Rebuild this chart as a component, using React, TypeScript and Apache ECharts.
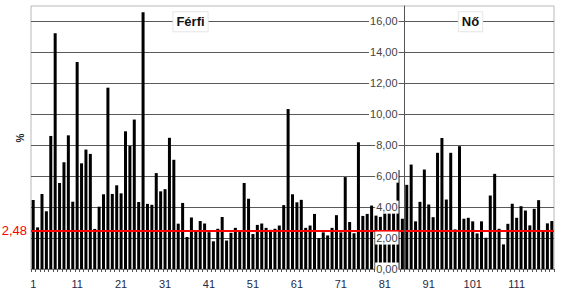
import React, { useEffect, useRef } from "react";
import * as echarts from "echarts";

const maleValues = [
  4.46, 2.69, 4.85, 3.73, 8.6, 15.24, 5.56, 6.9, 8.64, 4.35,
  13.38, 6.83, 7.72, 7.44, 2.59, 4.03, 4.83, 11.72, 4.85, 5.41,
  4.89, 8.9, 7.95, 9.66, 4.33, 16.6, 4.21, 4.15, 6.2, 5.02,
  5.16, 8.48, 7.06, 2.93, 4.27, 2.07, 3.33, 2.4, 3.1, 2.94,
  2.38, 1.79, 2.6, 3.36, 1.84, 2.34, 2.66, 2.46, 5.56, 4.54,
  2.26, 2.85, 2.94, 2.66, 2.53, 2.6, 2.81, 4.13, 10.34, 4.83,
  4.31, 4.47, 2.66, 2.81, 3.56, 2.0, 2.37, 2.17, 2.66, 3.48,
  2.37, 5.94, 3.04, 2.31, 8.19, 3.43, 3.56, 4.1, 3.45, 3.37,
  3.61, 3.61, 3.61, 6.4, 3.25,
];
const femaleValues = [
  5.44, 6.75, 3.08, 4.34, 6.43, 4.17, 3.35, 7.51, 8.47, 4.49,
  7.51, 2.56, 7.94, 3.25, 3.31, 3.08, 2.3, 3.08, 2.02, 4.75,
  6.15, 2.6, 1.59, 2.92, 4.22, 3.31, 4.06, 3.78, 2.82, 3.89,
  4.45, 2.45, 2.95, 3.1,
];
const allValues = [...maleValues, ...femaleValues];
const categories = allValues.map((_, i) => String(i + 1));
const averageValue = 2.48;
const averageLabel = "2,48";
const groupLabels = ["Férfi", "Nő"];
const yMax = 17;
const yInterval = 2;

const FONT = "Liberation Sans, Arial, sans-serif";

export default function App() {
  const ref = useRef<HTMLDivElement>(null);
  useEffect(() => {
    if (!ref.current) return;
    const chart = echarts.init(ref.current, undefined, { renderer: "svg" });
    const gridLeft = 31;
    const gridRight = 10;
    const plotW = 564 - gridLeft - gridRight;
    const sepOffset = (plotW / categories.length) * maleValues.length;
    chart.setOption({
      animation: false,
      backgroundColor: "#ffffff",
      textStyle: { fontFamily: FONT },
      grid: {
        left: gridLeft,
        right: gridRight,
        top: 6,
        bottom: 38,
        show: true,
        borderColor: "#b8b8b8",
        borderWidth: 1,
        containLabel: false,
      },
      xAxis: {
        type: "category",
        data: categories,
        boundaryGap: true,
        axisLine: { show: true, lineStyle: { color: "#777", width: 1 } },
        axisTick: { show: true, interval: 0, length: 3, lineStyle: { color: "#555" } },
        axisLabel: {
          interval: 9,
          margin: 9,
          fontSize: 11,
          color: "#1f2a44",
          fontFamily: FONT,
        },
        splitLine: { show: false },
      },
      yAxis: [
        {
          type: "value",
          min: 0,
          max: yMax,
          interval: yInterval,
          position: "left",
          axisLine: { show: false },
          axisTick: { show: false },
          axisLabel: { show: false },
          splitLine: {
            show: true,
            showMaxLine: false,
            lineStyle: { color: "#5a5a5a", width: 1 },
          },
        },
        {
          type: "value",
          min: 0,
          max: yMax,
          interval: yInterval,
          position: "left",
          offset: -sepOffset,
          z: 10,
          axisLine: { show: true, lineStyle: { color: "#555", width: 1 } },
          axisTick: { show: false },
          splitLine: { show: false },
          axisLabel: {
            show: true,
            showMaxLabel: false,
            margin: 6,
            fontSize: 11,
            color: "#444",
            fontFamily: FONT,
            backgroundColor: "#ffffff",
            padding: [1, 1, 1, 1],
            formatter: (v: number) => v.toFixed(2).replace(".", ","),
          },
        },
      ],
      series: [
        {
          type: "bar",
          data: allValues,
          barWidth: 3,
          itemStyle: { color: "#000000" },
          z: 2,
          markLine: {
            silent: true,
            symbol: "none",
            lineStyle: { color: "#ff0000", width: 2, type: "solid" },
            label: {
              show: true,
              position: "start",
              formatter: averageLabel,
              color: "#ff0000",
              fontSize: 13,
              fontFamily: FONT,
              distance: 4,
            },
            data: [{ yAxis: averageValue }],
          },
        },
      ],
      graphic: [
        {
          type: "text",
          x: 20,
          y: 138,
          rotation: Math.PI / 2,
          style: {
            text: "%",
            fontSize: 10,
            fontWeight: "bold",
            fill: "#222",
            fontFamily: FONT,
            align: "center",
            verticalAlign: "middle",
          },
        },
        {
          type: "text",
          x: 190.5,
          y: 21.7,
          z: 20,
          style: {
            text: groupLabels[0],
            fontSize: 13,
            fontWeight: "bold",
            fill: "#111",
            fontFamily: FONT,
            align: "center",
            verticalAlign: "middle",
            backgroundColor: "#ffffff",
            borderColor: "#e6e6e6",
            borderWidth: 1,
            padding: [3, 3, 3, 3],
          },
        },
        {
          type: "text",
          x: 470.5,
          y: 21.7,
          z: 20,
          style: {
            text: groupLabels[1],
            fontSize: 13,
            fontWeight: "bold",
            fill: "#111",
            fontFamily: FONT,
            align: "center",
            verticalAlign: "middle",
            backgroundColor: "#ffffff",
            borderColor: "#e6e6e6",
            borderWidth: 1,
            padding: [3, 3, 3, 3],
          },
        },
      ],
    });
    return () => chart.dispose();
  }, []);
  return (
    <div
      ref={ref}
      style={{ position: "absolute", left: 0, top: 0, width: 564, height: 307 }}
    />
  );
}
